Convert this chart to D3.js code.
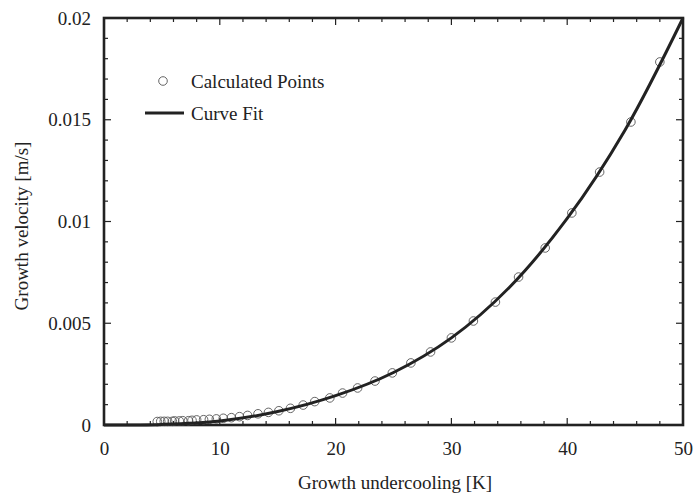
<!DOCTYPE html>
<html><head><meta charset="utf-8">
<script src="https://cdn.jsdelivr.net/npm/d3@7"></script>
<style>body{margin:0;background:#fff}text{font-family:"Liberation Serif","DejaVu Serif",serif;fill:#222}</style>
</head><body><svg id="c" width="694" height="494"></svg>
<script>
// Calculated points (undercooling K, velocity m/s)
const pointX = [48.0,45.5,42.8,40.4,38.1,35.8,33.8,31.9,30.0,28.2,26.5,24.9,23.4,21.9,20.6,19.5,18.2,17.2,16.1,15.1,14.2,13.3,12.4,11.7,11.0,10.3,9.7,9.1,8.6,8.0,7.6,7.3,6.8,6.5,6.1,5.9,5.5,5.2,4.9,4.6];
const pointV = [0.01784,0.01489,0.01243,0.01042,0.00870,0.00727,0.00604,0.00511,0.00428,0.00359,0.00305,0.00256,0.00216,0.00182,0.00157,0.00133,0.00115,0.00098,0.00082,0.00070,0.00062,0.00055,0.00047,0.00041,0.00036,0.00033,0.00030,0.00028,0.00026,0.00025,0.00023,0.00021,0.00021,0.00020,0.00020,0.00018,0.00018,0.00018,0.00018,0.00017];
// Curve fit samples
const fitX = [0,5,10,15,20,25,30,35,40,45,50];
const fitV = [0,0.00003,0.0002,0.00066,0.00144,0.00258,0.00428,0.00676,0.01015,0.0145,0.02];
const xTicks = [0,10,20,30,40,50];
const yTicks = [0,0.005,0.01,0.015,0.02];
const yTickLabels = ["0","0.005","0.01","0.015","0.02"];
const legendLabels = ["Calculated Points","Curve Fit"];

const svg = d3.select("#c");
const L=104,R=683,T=18,B=425;
const FS=19;
const x = d3.scaleLinear().domain([0,50]).range([L,R]);
const y = d3.scaleLinear().domain([0,0.02]).range([B,T]);
const ink="#222";

// minor/major ticks (inward) on all four sides
const xMinor = d3.range(0,50.01,2), yMinor = d3.range(0,0.02001,0.001);
const g = svg.append("g");
function isMajorX(v){return Math.abs(v/10-Math.round(v/10))<1e-6;}
function isMajorY(v){return Math.abs(v/0.005-Math.round(v/0.005))<1e-6;}
xMinor.forEach(v=>{const len=isMajorX(v)?7:4;
  g.append("line").attr("x1",x(v)).attr("x2",x(v)).attr("y1",B).attr("y2",B-len).attr("stroke",ink).attr("stroke-width",1.2);
  g.append("line").attr("x1",x(v)).attr("x2",x(v)).attr("y1",T).attr("y2",T+len).attr("stroke",ink).attr("stroke-width",1.2);});
yMinor.forEach(v=>{const len=isMajorY(v)?7:4;
  g.append("line").attr("y1",y(v)).attr("y2",y(v)).attr("x1",L).attr("x2",L+len).attr("stroke",ink).attr("stroke-width",1.2);
  g.append("line").attr("y1",y(v)).attr("y2",y(v)).attr("x1",R).attr("x2",R-len).attr("stroke",ink).attr("stroke-width",1.2);});

// axes labels via d3 axes
const xAxis = svg.append("g").attr("transform",`translate(0,${B})`)
  .call(d3.axisBottom(x).tickValues(xTicks).tickSize(0).tickPadding(17).tickFormat(d3.format("d")));
const yAxis = svg.append("g").attr("transform",`translate(${L},0)`)
  .call(d3.axisLeft(y).tickValues(yTicks).tickSize(0).tickPadding(13).tickFormat((d,i)=>yTickLabels[i]));
[xAxis,yAxis].forEach(a=>{a.select(".domain").remove();a.selectAll("text").attr("font-size",FS).attr("font-family","Liberation Serif").attr("fill",ink);});

// frame
svg.append("rect").attr("x",L).attr("y",T).attr("width",R-L).attr("height",B-T)
  .attr("fill","none").attr("stroke",ink).attr("stroke-width",2.6);

// points
const pts = pointX.map((v,i)=>[v,pointV[i]]);
svg.append("g").selectAll("circle").data(pts).join("circle")
  .attr("cx",d=>x(d[0])).attr("cy",d=>y(d[1])).attr("r",4.3)
  .attr("fill","none").attr("stroke","#555").attr("stroke-width",0.9);

// fit curve
const fit = fitX.map((v,i)=>[v,fitV[i]]);
svg.append("path").datum(fit).attr("d",d3.line().x(d=>x(d[0])).y(d=>y(d[1])).curve(d3.curveCatmullRom.alpha(0.5)))
  .attr("fill","none").attr("stroke",ink).attr("stroke-width",3);

// titles
svg.append("text").attr("x",395).attr("y",489).attr("text-anchor","middle").attr("font-size",FS).text("Growth undercooling [K]");
svg.append("text").attr("transform",`translate(28,226) rotate(-90)`).attr("text-anchor","middle").attr("font-size",FS).text("Growth velocity [m/s]");

// legend
svg.append("circle").attr("cx",163).attr("cy",81).attr("r",4.3).attr("fill","none").attr("stroke","#555").attr("stroke-width",0.9);
svg.append("text").attr("x",191).attr("y",81).attr("dy","0.35em").attr("font-size",FS).text(legendLabels[0]);
svg.append("line").attr("x1",145).attr("x2",184).attr("y1",113).attr("y2",113).attr("stroke",ink).attr("stroke-width",3);
svg.append("text").attr("x",191).attr("y",113).attr("dy","0.35em").attr("font-size",FS).text(legendLabels[1]);
</script></body></html>
